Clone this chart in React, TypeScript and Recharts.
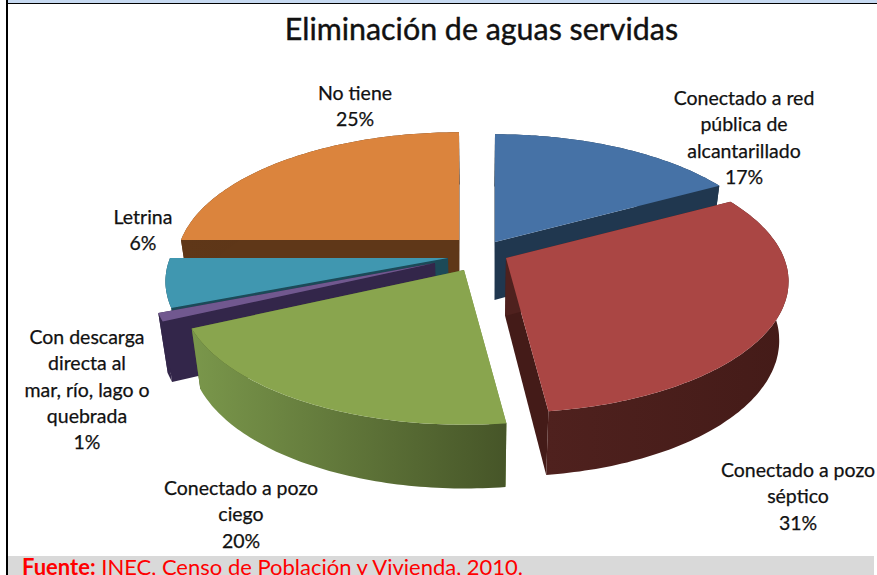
import React from 'react';
import { PieChart, Pie } from 'recharts';

// listed in paint order: counter-clockwise from the end of the first slice
const categories = [
  ['Conectado a red', 'pública de', 'alcantarillado'],
  ['No tiene'],
  ['Letrina'],
  ['Con descarga', 'directa al', 'mar, río, lago o', 'quebrada'],
  ['Conectado a pozo', 'ciego'],
  ['Conectado a pozo', 'séptico'],
];
const values = [17, 25, 6, 1, 20, 31];
const topColors = ['#4672a6', '#db843d', '#4097b0', '#71588f', '#89a54e', '#aa4644'];
const sideColors = [
  ['#20374f', '#20374f'],
  ['#5f3718', '#5a3317'],
  ['#1c4a58', '#1c4a58'],
  ['#33264a', '#33264a'],
  ['#7a974b', '#465528'],
  ['#4f211e', '#441b18'],
];
const labelCenters = [
  [744, 105],
  [355, 100],
  [143, 224],
  [87, 344],
  [241, 495],
  [798, 477],
];
// how far each slice is pulled out of the pie, on screen
const explodeOffsets = [
  [18, -13],
  [-18, -15],
  [-29, 3],
  [-42, 8],
  [-13, 15],
  [29, 3],
];

const WIDTH = 877;
const HEIGHT = 575;
const CX = 477;
const CY = 255;
const RX = 278;
const RY = 127;
const PERSPECTIVE = 0.179;
const DEPTH = 58;
const LINE_HEIGHT = 26.3;
const FONT = 'Lato, "Open Sans", sans-serif';

const chartData = categories.map((lines, i) => ({ name: lines.join(' '), value: values[i] }));
const firstAngle = 90 - (360 * values[0]) / values.reduce((a, b) => a + b, 0);

// project a point of the pie plane (X right, Z towards the viewer) to the screen
const project = (x: number, z: number, off: number[], lower = false) => {
  const w = 1 - PERSPECTIVE * z;
  const px = (x * RX) / w + off[0];
  return {
    x: CX + px * (lower ? 0.97 : 1),
    y: CY + (z * RY) / w + off[1] + (lower ? DEPTH * (1 + 0.1 * z) : 0),
  };
};

const toPath = (pts: { x: number; y: number }[]) =>
  pts.map((p, i) => `${i ? 'L' : 'M'}${p.x.toFixed(1)} ${p.y.toFixed(1)}`).join(' ') + ' Z';

const SliceShape = (props: any) => {
  const { startAngle, endAngle, index } = props;
  const a0 = Math.min(startAngle, endAngle);
  const a1 = Math.max(startAngle, endAngle);
  const off = explodeOffsets[index];

  const steps = Math.max(4, Math.ceil(a1 - a0));
  const rim: number[][] = [];
  for (let s = 0; s <= steps; s++) {
    const rad = ((a0 + ((a1 - a0) * s) / steps) * Math.PI) / 180;
    rim.push([Math.cos(rad), -Math.sin(rad)]);
  }

  const upperRim = rim.map(([x, z]) => project(x, z, off));
  const lowerRim = rim.map(([x, z]) => project(x, z, off, true));
  const apex = project(0, 0, off);
  const apexLow = project(0, 0, off, true);
  const wall = (i: number) => toPath([apex, upperRim[i], lowerRim[i], apexLow]);
  const gradId = `side-${index}`;

  return (
    <g>
      <defs>
        <linearGradient id={gradId} x1="0" y1="0" x2="1" y2="0">
          <stop offset="0%" stopColor={sideColors[index][0]} />
          <stop offset="100%" stopColor={sideColors[index][1]} />
        </linearGradient>
      </defs>
      <path d={wall(0)} fill={sideColors[index][1]} />
      <path d={wall(rim.length - 1)} fill={sideColors[index][0]} />
      <path d={toPath([...upperRim, ...[...lowerRim].reverse()])} fill={`url(#${gradId})`} />
      <path d={toPath([apex, ...upperRim])} fill={topColors[index]} />
    </g>
  );
};

const SliceLabel = (props: any) => {
  const { index } = props;
  const [x, y] = labelCenters[index];
  const lines = [...categories[index], `${values[index]}%`];
  return (
    <text x={x} y={y} textAnchor="middle" fontFamily={FONT} fontSize={19.5} fill="#111" stroke="#111" strokeWidth={0.25}>
      {lines.map((line, i) => (
        <tspan key={i} x={x} y={y + i * LINE_HEIGHT}>
          {line}
        </tspan>
      ))}
    </text>
  );
};

export default function App() {
  return (
    <div style={{ position: 'absolute', left: 0, top: 0, width: WIDTH, height: HEIGHT, background: '#fff', overflow: 'hidden' }}>
      <div style={{ position: 'absolute', left: 8, top: 0, right: 0, height: 3, background: '#c6d9f1' }} />
      <div style={{ position: 'absolute', left: 6, top: 3, right: 0, height: 1, background: '#000' }} />
      <div style={{ position: 'absolute', left: 6, top: 0, bottom: 0, width: 2, background: '#000' }} />
      <div style={{ position: 'absolute', left: 0, top: 0 }}>
        <PieChart width={WIDTH} height={HEIGHT} margin={{ top: 0, right: 0, bottom: 0, left: 0 }}>
          <text x={481.5} y={40} textAnchor="middle" fontFamily={FONT} fontSize={30.4} fill="#111" stroke="#111" strokeWidth={0.4}>
            Eliminación de aguas servidas
          </text>
          <Pie
            data={chartData}
            dataKey="value"
            nameKey="name"
            cx={CX}
            cy={CY}
            outerRadius={RX}
            startAngle={firstAngle}
            endAngle={firstAngle + 360}
            stroke="none"
            shape={SliceShape}
            label={SliceLabel}
            labelLine={false}
            isAnimationActive={false}
          />
        </PieChart>
      </div>
      <div
        style={{
          position: 'absolute',
          left: 8,
          top: 556,
          width: 866,
          height: 19,
          background: '#d9d9d9',
          color: '#f00',
          fontFamily: FONT,
          fontSize: 22,
          lineHeight: '22px',
          paddingLeft: 14,
          boxSizing: 'border-box',
          whiteSpace: 'nowrap',
          overflow: 'hidden',
        }}
      >
        <b>Fuente:</b> INEC, Censo de Población y Vivienda, 2010.
      </div>
    </div>
  );
}
